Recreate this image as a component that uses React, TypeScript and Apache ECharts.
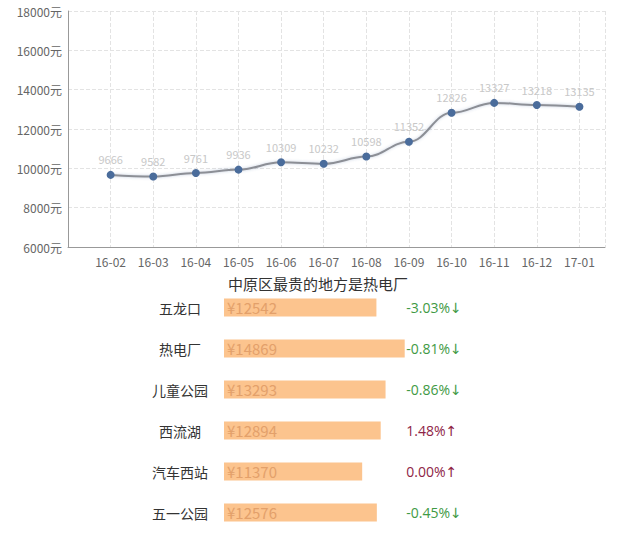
import React, { useEffect, useRef } from "react";
import * as echarts from "echarts";

const months = ["16-02", "16-03", "16-04", "16-05", "16-06", "16-07", "16-08", "16-09", "16-10", "16-11", "16-12", "17-01"];
const prices = [9666, 9582, 9761, 9936, 10309, 10232, 10598, 11352, 12826, 13327, 13218, 13135];
const yTicks = [6000, 8000, 10000, 12000, 14000, 16000, 18000];

const title = "中原区最贵的地方是热电厂";
const places = ["五龙口", "热电厂", "儿童公园", "西流湖", "汽车西站", "五一公园"];
const placePrices = [12542, 14869, 13293, 12894, 11370, 12576];
const changes = ["-3.03%↓", "-0.81%↓", "-0.86%↓", "1.48%↑", "0.00%↑", "-0.45%↓"];

const FONT = "'Noto Sans CJK SC', 'Microsoft YaHei', sans-serif";
const PCT_FONT = "'Open Sans', 'DejaVu Sans', sans-serif";

export default function App() {
  const ref = useRef<HTMLDivElement>(null);
  useEffect(() => {
    if (!ref.current) return;
    const chart = echarts.init(ref.current, null, { renderer: "svg" });
    chart.setOption({
      animation: false,
      textStyle: { fontFamily: FONT },
      title: {
        text: title,
        left: 313,
        top: 271,
        textAlign: "center",
        textStyle: { fontSize: 15, fontWeight: "normal", color: "#333", fontFamily: FONT },
      },
      grid: [
        { left: 68, top: 11, width: 537, height: 236 },
        { left: 224, top: 287, width: 182.3, height: 248.4 },
      ],
      xAxis: [
        {
          gridIndex: 0,
          type: "value",
          min: -1,
          max: 11.6,
          interval: 1,
          axisLine: { show: true, onZero: false, lineStyle: { color: "#999" } },
          axisTick: { show: false },
          axisLabel: {
            color: "#666",
            fontSize: 12,
            margin: 8,
            showMaxLabel: false,
            formatter: (v: number) => (v >= 0 && Number.isInteger(v) && months[v] ? months[v] : ""),
          },
          splitLine: { show: true, lineStyle: { color: "#e3e3e3", type: "dashed" } },
        },
        {
          gridIndex: 1,
          type: "value",
          min: 0,
          max: 15000,
          show: false,
        },
      ],
      yAxis: [
        {
          gridIndex: 0,
          type: "value",
          min: yTicks[0],
          max: yTicks[yTicks.length - 1],
          interval: 2000,
          axisLine: { show: true, onZero: false, lineStyle: { color: "#999" } },
          axisTick: { show: false },
          axisLabel: { color: "#666", fontSize: 12, margin: 6, formatter: (v: number) => v + "元" },
          splitLine: { show: true, lineStyle: { color: "#e3e3e3", type: "dashed" } },
        },
        {
          gridIndex: 1,
          type: "category",
          data: places,
          inverse: true,
          axisLine: { show: false },
          axisTick: { show: false },
          splitLine: { show: false },
          axisLabel: { color: "#333", fontSize: 14, align: "center", margin: 44, padding: [8, 0, 0, 0] },
        },
        {
          gridIndex: 1,
          type: "category",
          position: "right",
          data: changes,
          inverse: true,
          axisLine: { show: false },
          axisTick: { show: false },
          splitLine: { show: false },
          axisLabel: {
            align: "left",
            margin: 0,
            fontSize: 14,
            formatter: (v: string) => (v.indexOf("↓") >= 0 ? `{down|${v}}` : `{up|${v}}`),
            rich: {
              down: { color: "#3f9a45", fontSize: 14, fontFamily: PCT_FONT },
              up: { color: "#8e2446", fontSize: 14, fontFamily: PCT_FONT },
            },
          },
        },
      ],
      series: [
        {
          type: "line",
          xAxisIndex: 0,
          yAxisIndex: 0,
          data: prices.map((p, i) => [i, p]),
          smooth: 0.4,
          smoothMonotone: "x",
          symbol: "circle",
          symbolSize: 8,
          lineStyle: { color: "#8c8f96", width: 2, shadowColor: "rgba(80,110,160,0.35)", shadowBlur: 3 },
          itemStyle: { color: "#4a6c9b" },
          label: { show: true, position: "top", color: "#c8c8c8", fontSize: 11, distance: 6 },
        },
        {
          type: "bar",
          xAxisIndex: 1,
          yAxisIndex: 1,
          data: placePrices,
          barWidth: 18,
          itemStyle: { color: "#fcc48e" },
          label: {
            show: true,
            position: "insideLeft",
            distance: 3,
            color: "#e3a06a",
            fontSize: 15,
            formatter: (p: any) => "¥" + p.value,
          },
        },
      ],
    });
    return () => chart.dispose();
  }, []);
  return <div ref={ref} style={{ position: "absolute", left: 0, top: 0, width: 640, height: 533 }} />;
}
